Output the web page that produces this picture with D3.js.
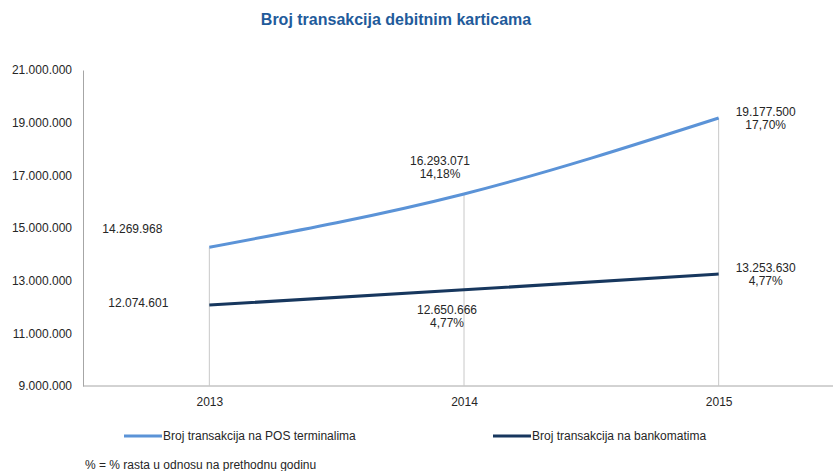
<!DOCTYPE html>
<html>
<head>
<meta charset="utf-8">
<script src="https://cdn.jsdelivr.net/npm/d3@7"></script>
<style>
  body { margin: 0; background: #fff; }
  svg { display: block; font-family: "Liberation Sans", Arial, sans-serif; }
</style>
</head>
<body>
<div id="wrapper"></div>
<script>
// data
const years = ["2013", "2014", "2015"]
const posValues = [14269968, 16293071, 19177500]
const atmValues = [12074601, 12650666, 13253630]
const posGrowth = [null, "14,18%", "17,70%"]
const atmGrowth = [null, "4,77%", "4,77%"]
const yTicks = [9000000, 11000000, 13000000, 15000000, 17000000, 19000000, 21000000]
const seriesNames = ["Broj transakcija na POS terminalima", "Broj transakcija na bankomatima"]

const fmt = v => d3.format(",")(v).replace(/,/g, ".")

function drawChart() {
  const width = 835
  const height = 471

  const svg = d3.select("#wrapper")
    .append("svg")
    .attr("width", width)
    .attr("height", height)

  const xScale = d3.scalePoint()
    .domain(years)
    .range([82, 846])
    .padding(0.5)

  const yScale = d3.scaleLinear()
    .domain([9000000, 21000000])
    .range([386, 70])

  const axisLeft = 83, axisRight = 833

  // title
  svg.append("text")
    .attr("x", 396)
    .attr("y", 25)
    .attr("text-anchor", "middle")
    .style("font-size", "16px")
    .style("font-weight", "bold")
    .style("fill", "#1f5b9b")
    .text("Broj transakcija debitnim karticama")

  // y axis
  const yAxis = svg.append("g")
    .attr("transform", `translate(${axisLeft},0)`)
    .call(d3.axisLeft(yScale).tickValues(yTicks).tickFormat(fmt).tickSize(0).tickPadding(11))
  yAxis.select(".domain").attr("stroke", "#a6a6a6")
  yAxis.selectAll("text").style("font-size", "12px").style("fill", "#262626")

  // x axis
  const xAxis = svg.append("g")
    .attr("transform", `translate(0,${yScale(9000000)})`)
    .call(d3.axisBottom(xScale).tickSize(0).tickPadding(11))
  xAxis.select(".domain").remove()
  xAxis.append("line")
    .attr("x1", axisLeft).attr("x2", axisRight)
    .attr("stroke", "#a6a6a6")
  xAxis.selectAll("text").style("font-size", "12px").style("fill", "#262626")

  // drop lines from the upper series to the axis
  svg.append("g").selectAll("line")
    .data(years)
    .join("line")
    .attr("x1", d => xScale(d)).attr("x2", d => xScale(d))
    .attr("y1", (d, i) => yScale(posValues[i]))
    .attr("y2", yScale(9000000))
    .attr("stroke", "#c8c8c8")
    .attr("stroke-width", 1)

  const line = values => d3.line()
    .x((d, i) => xScale(years[i]))
    .y(d => yScale(d))
    .curve(d3.curveMonotoneX)(values)

  const colors = ["#5b93d7", "#17375e"]

  svg.append("path")
    .attr("d", line(posValues))
    .attr("fill", "none")
    .attr("stroke", colors[0])
    .attr("stroke-width", 3)

  svg.append("path")
    .attr("d", line(atmValues))
    .attr("fill", "none")
    .attr("stroke", colors[1])
    .attr("stroke-width", 3)

  // data labels (offset from the point, in px)
  const posOffsets = [[-77, -18], [-24, -33], [47, -6]]
  const atmOffsets = [[-71, -2], [-17, 20], [47, -6]]

  const labels = svg.append("g")
    .style("font-size", "12px")
    .style("fill", "#262626")
    .attr("text-anchor", "middle")

  const addLabels = (values, growth, offsets) => {
    values.forEach((v, i) => {
      const x = xScale(years[i]) + offsets[i][0]
      const y = yScale(v) + offsets[i][1]
      const t = labels.append("text")
        .attr("x", x)
        .attr("y", y + 4)
      t.append("tspan").attr("x", x).text(fmt(v))
      if (growth[i]) {
        t.append("tspan").attr("x", x).attr("dy", 13.5).text(growth[i])
      }
    })
  }
  addLabels(posValues, posGrowth, posOffsets)
  addLabels(atmValues, atmGrowth, atmOffsets)

  // legend
  const legendX = [124, 493]
  const legend = svg.append("g")
    .selectAll("g")
    .data(seriesNames)
    .join("g")
    .attr("transform", (d, i) => `translate(${legendX[i]},436)`)
  legend.append("line")
    .attr("x1", 0).attr("x2", 38)
    .attr("stroke", (d, i) => colors[i])
    .attr("stroke-width", 3)
  legend.append("text")
    .attr("x", 39)
    .attr("y", 4)
    .style("font-size", "12px")
    .style("fill", "#262626")
    .text(d => d)

  // footnote
  svg.append("text")
    .attr("x", 85)
    .attr("y", 469)
    .style("font-size", "12px")
    .style("fill", "#262626")
    .text("% = % rasta u odnosu na prethodnu godinu")
}
drawChart()
</script>
</body>
</html>
